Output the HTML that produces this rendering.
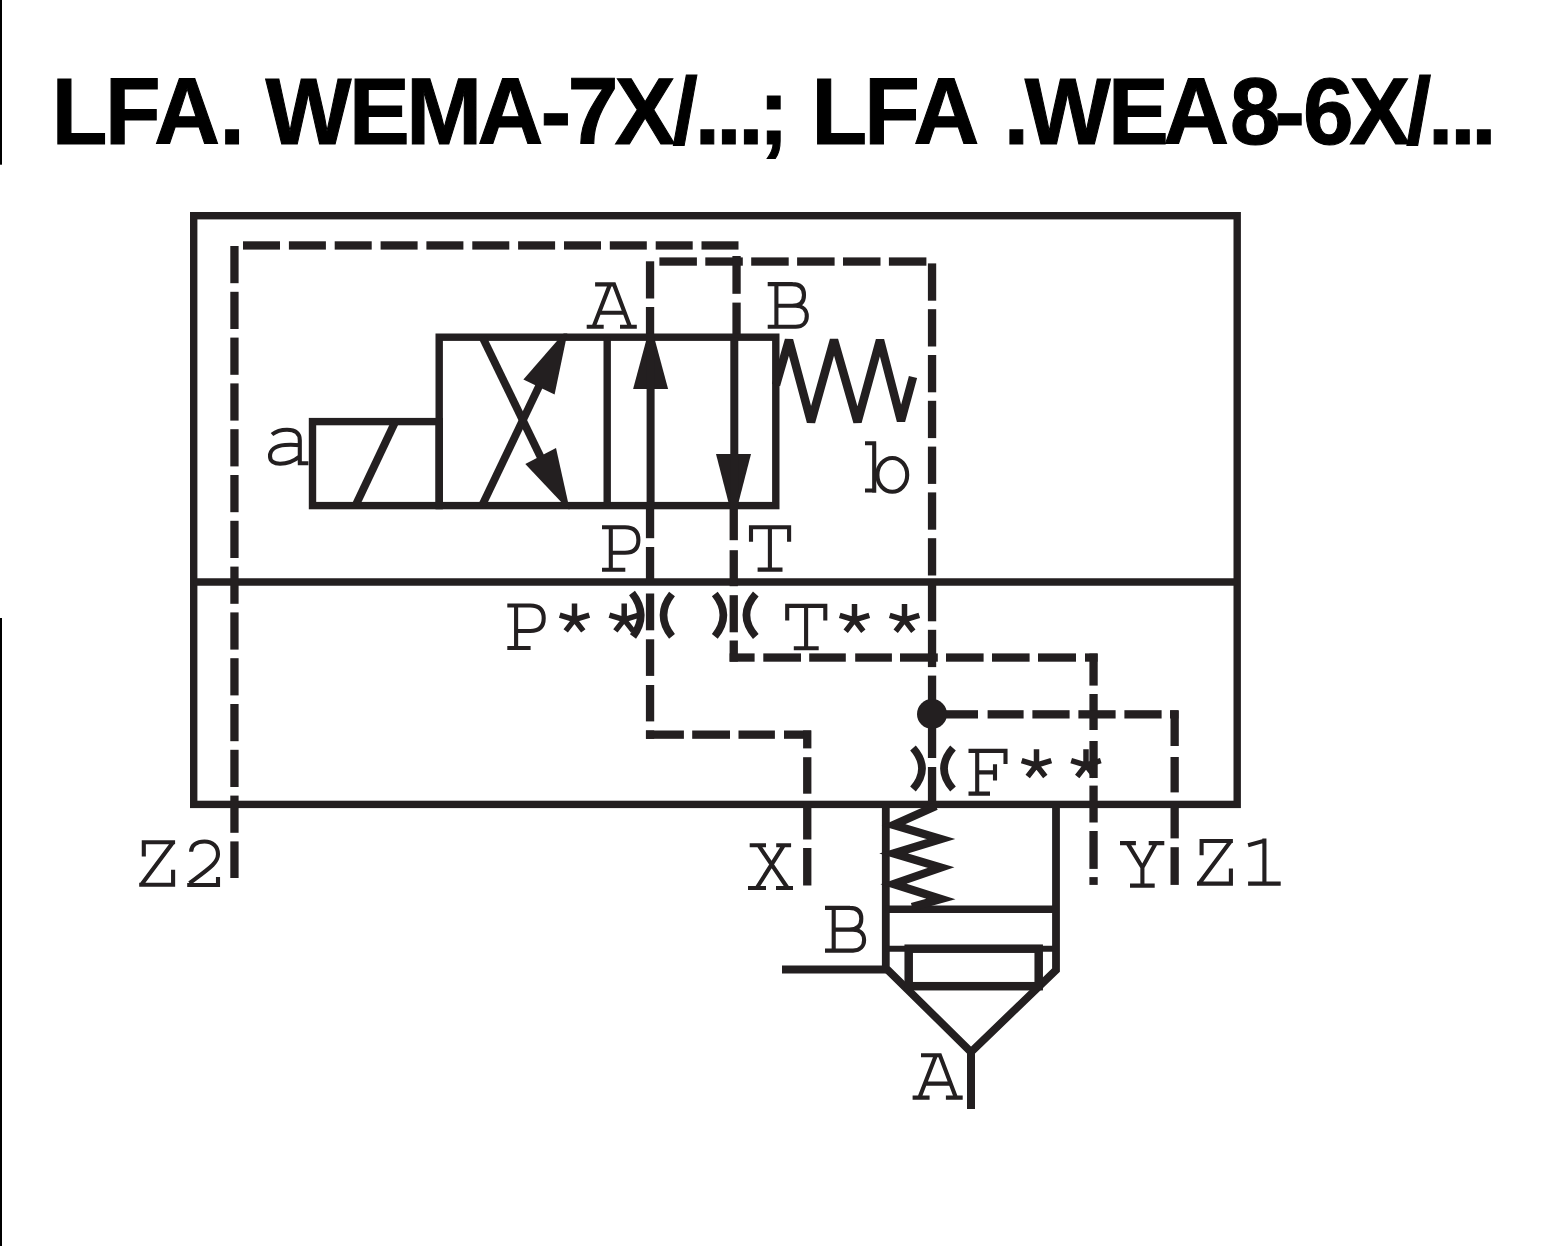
<!DOCTYPE html>
<html><head><meta charset="utf-8"><style>
html,body{margin:0;padding:0;background:#fff;width:1550px;height:1246px;overflow:hidden}
svg{position:absolute;left:0;top:0}
.title{font-family:"Liberation Sans",sans-serif;font-weight:bold}

</style></head><body>
<svg width="1550" height="1246" viewBox="0 0 1550 1246">
<rect x="0" y="0" width="2" height="164.7" fill="#000"/>
<rect x="0" y="618" width="2" height="628" fill="#000"/>
<text class="title" xml:space="preserve" transform="scale(0.96,1)" x="53.8 109.4 160.6 228.6 255.2 276.5 363.5 423.1 497.3 563.2 591.3 640.5 700.5 723.8 746.1 769.0 790.2 822.9 845.3 900.2 951.5 1026.0 1045.6 1067.4 1154.3 1211.6 1281.2 1327.7 1357.3 1405.8 1464.5 1487.6 1510.6 1532.5" y="143.8" font-size="94.8" fill="#000" stroke="#000" stroke-width="1.1">LFA. WEMA-7X/...; LFA .WEA8-6X/...</text>
<g class="mono" fill="#231f20" stroke="#231f20">
<rect x="193.7" y="215.7" width="1043.5" height="588.7" fill="none" stroke-width="7.4"/>
<line x1="193.7" y1="582" x2="1237.2" y2="582" stroke-width="7.4" stroke-linecap="butt"/>
<rect x="243.0" y="241.3" width="37.0" height="8.3" stroke="none"/>
<rect x="288.9" y="241.3" width="37.0" height="8.3" stroke="none"/>
<rect x="334.7" y="241.3" width="37.0" height="8.3" stroke="none"/>
<rect x="380.6" y="241.3" width="37.0" height="8.3" stroke="none"/>
<rect x="426.4" y="241.3" width="37.0" height="8.3" stroke="none"/>
<rect x="472.3" y="241.3" width="37.0" height="8.3" stroke="none"/>
<rect x="518.1" y="241.3" width="37.0" height="8.3" stroke="none"/>
<rect x="564.0" y="241.3" width="37.0" height="8.3" stroke="none"/>
<rect x="609.8" y="241.3" width="37.0" height="8.3" stroke="none"/>
<rect x="655.7" y="241.3" width="37.0" height="8.3" stroke="none"/>
<rect x="701.5" y="241.3" width="37.0" height="8.3" stroke="none"/>
<rect x="230.3" y="246.0" width="8.3" height="37.2" stroke="none"/>
<rect x="230.3" y="291.8" width="8.3" height="37.2" stroke="none"/>
<rect x="230.3" y="337.6" width="8.3" height="37.2" stroke="none"/>
<rect x="230.3" y="383.4" width="8.3" height="37.2" stroke="none"/>
<rect x="230.3" y="429.2" width="8.3" height="37.2" stroke="none"/>
<rect x="230.3" y="475.0" width="8.3" height="37.2" stroke="none"/>
<rect x="230.3" y="520.8" width="8.3" height="37.2" stroke="none"/>
<rect x="230.3" y="566.6" width="8.3" height="37.2" stroke="none"/>
<rect x="230.3" y="612.4" width="8.3" height="37.2" stroke="none"/>
<rect x="230.3" y="658.2" width="8.3" height="37.2" stroke="none"/>
<rect x="230.3" y="704.0" width="8.3" height="37.2" stroke="none"/>
<rect x="230.3" y="749.8" width="8.3" height="37.2" stroke="none"/>
<rect x="230.3" y="795.6" width="8.3" height="37.2" stroke="none"/>
<rect x="230.3" y="841.4" width="8.3" height="36.6" stroke="none"/>
<rect x="659.4" y="257.4" width="37.5" height="8.3" stroke="none"/>
<rect x="705.3" y="257.4" width="37.5" height="8.3" stroke="none"/>
<rect x="751.2" y="257.4" width="37.5" height="8.3" stroke="none"/>
<rect x="797.1" y="257.4" width="37.5" height="8.3" stroke="none"/>
<rect x="843.0" y="257.4" width="37.5" height="8.3" stroke="none"/>
<rect x="888.9" y="257.4" width="37.5" height="8.3" stroke="none"/>
<rect x="927.9" y="263.4" width="8.3" height="37.3" stroke="none"/>
<rect x="927.9" y="309.2" width="8.3" height="37.3" stroke="none"/>
<rect x="927.9" y="355.0" width="8.3" height="37.3" stroke="none"/>
<rect x="927.9" y="400.8" width="8.3" height="37.3" stroke="none"/>
<rect x="927.9" y="446.6" width="8.3" height="37.3" stroke="none"/>
<rect x="927.9" y="492.4" width="8.3" height="37.3" stroke="none"/>
<rect x="927.9" y="538.2" width="8.3" height="37.3" stroke="none"/>
<rect x="927.9" y="584.0" width="8.3" height="37.3" stroke="none"/>
<rect x="927.9" y="629.8" width="8.3" height="37.3" stroke="none"/>
<rect x="927.9" y="675.6" width="8.3" height="82.4" stroke="none"/>
<rect x="927.9" y="767.0" width="8.3" height="38.0" stroke="none"/>
<rect x="645.9" y="261.3" width="8.3" height="37.2" stroke="none"/>
<rect x="645.9" y="307.0" width="8.3" height="30.0" stroke="none"/>
<rect x="645.9" y="509.0" width="8.3" height="29.2" stroke="none"/>
<rect x="645.9" y="547.0" width="8.3" height="35.0" stroke="none"/>
<rect x="645.9" y="593.5" width="8.3" height="36.8" stroke="none"/>
<rect x="645.9" y="639.3" width="8.3" height="36.6" stroke="none"/>
<rect x="645.9" y="685.0" width="8.3" height="36.4" stroke="none"/>
<rect x="645.9" y="730.4" width="8.3" height="8.4" stroke="none"/>
<rect x="732.4" y="256.0" width="8.3" height="37.8" stroke="none"/>
<rect x="732.4" y="302.6" width="8.3" height="34.4" stroke="none"/>
<rect x="729.6" y="509.0" width="8.3" height="31.2" stroke="none"/>
<rect x="729.6" y="550.2" width="8.3" height="36.0" stroke="none"/>
<rect x="729.6" y="595.2" width="8.3" height="37.1" stroke="none"/>
<rect x="729.6" y="640.5" width="8.3" height="21.2" stroke="none"/>
<rect x="729.6" y="653.4" width="25.0" height="8.3" stroke="none"/>
<rect x="763.3" y="653.4" width="37.7" height="8.3" stroke="none"/>
<rect x="809.2" y="653.4" width="36.6" height="8.3" stroke="none"/>
<rect x="855.2" y="653.4" width="36.7" height="8.3" stroke="none"/>
<rect x="900.0" y="653.4" width="37.8" height="8.3" stroke="none"/>
<rect x="946.0" y="653.4" width="37.6" height="8.3" stroke="none"/>
<rect x="992.0" y="653.4" width="37.6" height="8.3" stroke="none"/>
<rect x="1038.0" y="653.4" width="38.0" height="8.3" stroke="none"/>
<rect x="1085.0" y="653.4" width="12.6" height="8.3" stroke="none"/>
<rect x="1089.4" y="653.6" width="8.3" height="32.0" stroke="none"/>
<rect x="1089.4" y="694.0" width="8.3" height="36.0" stroke="none"/>
<rect x="1089.4" y="741.0" width="8.3" height="37.0" stroke="none"/>
<rect x="1089.4" y="785.6" width="8.3" height="36.9" stroke="none"/>
<rect x="1089.4" y="831.0" width="8.3" height="37.9" stroke="none"/>
<rect x="1089.4" y="877.1" width="8.3" height="7.8" stroke="none"/>
<rect x="932.0" y="710.2" width="46.0" height="8.3" stroke="none"/>
<rect x="987.6" y="710.2" width="36.0" height="8.3" stroke="none"/>
<rect x="1032.4" y="710.2" width="37.2" height="8.3" stroke="none"/>
<rect x="1078.4" y="710.2" width="37.2" height="8.3" stroke="none"/>
<rect x="1124.4" y="710.2" width="37.2" height="8.3" stroke="none"/>
<rect x="1170.0" y="710.2" width="8.4" height="8.3" stroke="none"/>
<rect x="1170.5" y="710.4" width="8.3" height="35.6" stroke="none"/>
<rect x="1170.5" y="757.0" width="8.3" height="35.4" stroke="none"/>
<rect x="1170.5" y="803.0" width="8.3" height="35.4" stroke="none"/>
<rect x="1170.5" y="847.2" width="8.3" height="37.7" stroke="none"/>
<rect x="646.0" y="730.5" width="37.9" height="8.3" stroke="none"/>
<rect x="692.2" y="730.5" width="37.8" height="8.3" stroke="none"/>
<rect x="738.5" y="730.5" width="36.4" height="8.3" stroke="none"/>
<rect x="784.0" y="730.5" width="27.0" height="8.3" stroke="none"/>
<rect x="803.1" y="730.4" width="8.3" height="18.0" stroke="none"/>
<rect x="803.1" y="757.2" width="8.3" height="36.5" stroke="none"/>
<rect x="803.1" y="803.0" width="8.3" height="36.5" stroke="none"/>
<rect x="803.1" y="848.0" width="8.3" height="37.5" stroke="none"/>
<circle cx="932" cy="714" r="15" stroke="none"/>
<rect x="312.5" y="421.6" width="126.7" height="84" fill="none" stroke-width="7.4"/>
<line x1="395.3" y1="421.6" x2="355.5" y2="505.6" stroke-width="8" stroke-linecap="butt"/>
<rect x="439.2" y="337.2" width="336.6" height="168.4" fill="none" stroke-width="7.4"/>
<line x1="607.2" y1="337.2" x2="607.2" y2="505.6" stroke-width="7.4" stroke-linecap="butt"/>
<clipPath id="vc"><rect x="439" y="333.6" width="337" height="175.6"/></clipPath>
<line x1="482.5" y1="337.2" x2="544" y2="464" stroke-width="7.8" stroke-linecap="butt"/>
<line x1="482" y1="505.6" x2="542" y2="380" stroke-width="7.8" stroke-linecap="butt"/>
<g clip-path="url(#vc)" stroke="none">
<polygon points="568.5,327.7 523.4,379.4 554.6,394.6"/>
<polygon points="570.1,511.5 525.3,464 556,448.1"/>
<polygon points="650.6,324 633.1,389 668.1,389"/>
<polygon points="733.5,522 716,454 751,454"/>
</g>
<line x1="650.6" y1="337.2" x2="650.6" y2="509" stroke-width="8" stroke-linecap="butt"/>
<line x1="734.3" y1="337.2" x2="734.3" y2="509" stroke-width="8" stroke-linecap="butt"/>
<polyline points="776,385 789,340 811,422 834,340 857.5,422 880,340 901,421 913,377" fill="none" stroke-width="8.5" stroke-linejoin="bevel"/>
<path d="M632,593 Q649,614.7 633,636.4" fill="none" stroke-width="7.5"/>
<path d="M672,594 Q655,615.2 672,636.4" fill="none" stroke-width="7.5"/>
<path d="M714.8,594 Q732,615.2 714.8,636.4" fill="none" stroke-width="7.5"/>
<path d="M755.8,594 Q737,615.2 755.8,636.4" fill="none" stroke-width="7.5"/>
<path d="M913,748 Q931,768.5 913,789" fill="none" stroke-width="7.5"/>
<path d="M953,748 Q935,768.5 953,789" fill="none" stroke-width="7.5"/>
<polyline points="885.8,804.4 885.8,968 971,1052 1056,970 1056,804.4" fill="none" stroke-width="7.8" stroke-linejoin="miter"/>
<line x1="885.8" y1="909.3" x2="1056" y2="909.3" stroke-width="7.4" stroke-linecap="butt"/>
<line x1="885.8" y1="948.7" x2="1056" y2="948.7" stroke-width="6" stroke-linecap="butt"/>
<rect x="908.7" y="948.7" width="130" height="37.5" fill="none" stroke-width="8.5"/>
<line x1="782" y1="969.6" x2="886" y2="969.6" stroke-width="8" stroke-linecap="butt"/>
<line x1="971" y1="1050" x2="971" y2="1109" stroke-width="8" stroke-linecap="butt"/>
<polyline points="936,806 893.5,825 941,839 893.5,853.5 941,867.5 893.5,884 941,899 912,907" fill="none" stroke-width="8.2" stroke-linejoin="miter" stroke-miterlimit="10"/>
<path transform="translate(586.5,282.2)" d="M7 44.7 L23.5 2.2 H27.5 L43.6 44.7 M8.6 2.2 H27 M12.7 30.6 H38.2 M0.2 44.6 H17.2 M33.5 44.6 H50.3" fill="none" stroke-width="4.1" stroke-linejoin="miter"/>
<path transform="translate(767.7,282.2)" d="M0 1.9 H25 M0 44.6 H28 M8.7 1.9 V44.6 M24.5 1.9 C32 1.9 36.3 5.5 36.3 12.7 C36.3 19.9 32 23.6 24.5 23.6 M8.7 23.6 H28 M28 23.6 C35.5 23.6 39.1 28.5 39.1 34.1 C39.1 40.2 35 44.6 28 44.6" fill="none" stroke-width="4.1" stroke-linejoin="miter"/>
<path transform="translate(602,525.2)" d="M0 2 H23 M8.8 2 V44.5 M0 44.5 H23.3 M23 2 C32 2 36.4 6.5 36.4 14.75 C36.4 23 32 27.5 23 27.5 M8.8 27.5 H23" fill="none" stroke-width="4.1" stroke-linejoin="miter"/>
<path transform="translate(749,525.2)" d="M2 16.6 V2 H40.1 V16.6 M20.9 2 V44.5 M8.6 44.4 H33.5" fill="none" stroke-width="4.1" stroke-linejoin="miter"/>
<path transform="translate(507.3,603.5)" d="M0 2 H23 M8.8 2 V44.5 M0 44.5 H23.3 M23 2 C32 2 36.4 6.5 36.4 14.75 C36.4 23 32 27.5 23 27.5 M8.8 27.5 H23" fill="none" stroke-width="4.1" stroke-linejoin="miter"/>
<path d="M574.5 619.6 L574.5 603.6 M574.5 619.6 L589.3 615.1 M574.5 619.6 L583.3 630.9 M574.5 619.6 L565.7 630.9 M574.5 619.6 L559.7 615.1 " fill="none" stroke-width="5.5"/>
<path d="M624.2 619.6 L624.2 603.6 M624.2 619.6 L639.0 615.1 M624.2 619.6 L633.0 630.9 M624.2 619.6 L615.4 630.9 M624.2 619.6 L609.4 615.1 " fill="none" stroke-width="5.5"/>
<path transform="translate(785.2,603.9)" d="M2 16.6 V2 H40.1 V16.6 M20.9 2 V44.5 M8.6 44.4 H33.5" fill="none" stroke-width="4.1" stroke-linejoin="miter"/>
<path d="M854.5 619.9 L854.5 603.9 M854.5 619.9 L869.3 615.4 M854.5 619.9 L863.3 631.2 M854.5 619.9 L845.7 631.2 M854.5 619.9 L839.7 615.4 " fill="none" stroke-width="5.5"/>
<path d="M904.5 619.9 L904.5 603.9 M904.5 619.9 L919.3 615.4 M904.5 619.9 L913.3 631.2 M904.5 619.9 L895.7 631.2 M904.5 619.9 L889.7 615.4 " fill="none" stroke-width="5.5"/>
<path transform="translate(968.5,749.1)" d="M0 1.8 H37 V14.8 M8.7 1.8 V44.5 M8.7 23.3 H26.5 M26.5 15.2 V31.3 M0 44.5 H21.5" fill="none" stroke-width="4.1" stroke-linejoin="miter"/>
<path d="M1036.5 765.2 L1036.5 749.2 M1036.5 765.2 L1051.3 760.7 M1036.5 765.2 L1045.3 776.5 M1036.5 765.2 L1027.7 776.5 M1036.5 765.2 L1021.7 760.7 " fill="none" stroke-width="5.5"/>
<path d="M1086.0 765.2 L1086.0 749.2 M1086.0 765.2 L1100.8 760.7 M1086.0 765.2 L1094.8 776.5 M1086.0 765.2 L1077.2 776.5 M1086.0 765.2 L1071.2 760.7 " fill="none" stroke-width="5.5"/>
<path transform="translate(748,843.2)" d="M1.7 2 H18 M28.2 2 H43.1 M0 44.8 H18 M28 44.8 H45 M10.5 2 L39.6 44.8 M35.9 2 L8.7 44.8" fill="none" stroke-width="4.1" stroke-linejoin="miter"/>
<path transform="translate(1120,841)" d="M0 2.1 H15.9 M28.7 2.1 H44.3 M7.5 2.1 L22.4 26.5 L35.9 2.1 M22.4 26 V44.6 M10 44.6 H34.7" fill="none" stroke-width="4.1" stroke-linejoin="miter"/>
<path transform="translate(1197,839)" d="M4.6 16.2 V2 H35.9 M33.5 2.5 L2.5 44 M0 44.6 H35.9 M33.9 46.5 V29.5" fill="none" stroke-width="4.1" stroke-linejoin="miter"/>
<path transform="translate(1248.1,838.4)" d="M0 6.8 L16.5 2.2 M16.3 0 V45.2 M0 45.2 H32.6" fill="none" stroke-width="4.1" stroke-linejoin="miter"/>
<path transform="translate(139.2,840.2)" d="M4.6 16.2 V2 H35.9 M33.5 2.5 L2.5 44 M0 44.6 H35.9 M33.9 46.5 V29.5" fill="none" stroke-width="4.1" stroke-linejoin="miter"/>
<path transform="translate(187.2,839.2)" d="M3.9 12.5 C3.9 6 9.5 2.3 17.3 2.3 C25.5 2.3 30.8 7.5 30.8 15 C30.8 23.5 23 28.5 2.3 44 M0 45.8 H32.8 M30.8 37.7 V47.7" fill="none" stroke-width="4.1" stroke-linejoin="miter"/>
<path transform="translate(825,906)" d="M0 1.9 H25 M0 44.6 H28 M8.7 1.9 V44.6 M24.5 1.9 C32 1.9 36.3 5.5 36.3 12.7 C36.3 19.9 32 23.6 24.5 23.6 M8.7 23.6 H28 M28 23.6 C35.5 23.6 39.1 28.5 39.1 34.1 C39.1 40.2 35 44.6 28 44.6" fill="none" stroke-width="4.1" stroke-linejoin="miter"/>
<path transform="translate(912.4,1053)" d="M7 44.7 L23.5 2.2 H27.5 L43.6 44.7 M8.6 2.2 H27 M12.7 30.6 H38.2 M0.2 44.6 H17.2 M33.5 44.6 H50.3" fill="none" stroke-width="4.1" stroke-linejoin="miter"/>
<path transform="translate(268,428.2)" d="M4 6.3 Q10 1.5 19 1.5 Q31.8 1.5 31.8 12 V35.3 M29.8 35.1 H40.4 M31.8 17 C26 16.5 21 16.5 17 16.8 C7 17.5 2 22 2 28 C2 33 6 35.5 12 35.5 C20 35.5 27 32 31.8 28" fill="none" stroke-width="4.1" stroke-linejoin="miter"/>
<path transform="translate(865,441)" d="M0 2.3 H11.2 M9.2 2.3 V51.7 M0 49.5 H11.2" fill="none" stroke-width="4.1" stroke-linejoin="miter"/>
<ellipse cx="892.3" cy="474.9" rx="14.9" ry="16.9" fill="none" stroke-width="4.1"/>
</g>
</svg>
</body></html>
